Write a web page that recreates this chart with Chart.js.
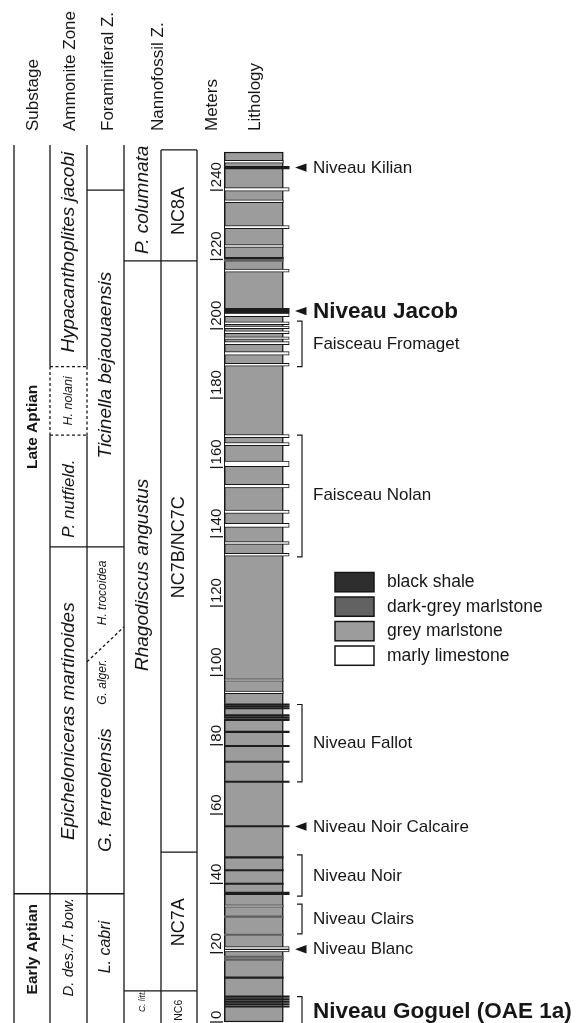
<!DOCTYPE html>
<html>
<head>
<meta charset="utf-8">
<script src="https://cdn.jsdelivr.net/npm/chart.js@4.4.1/dist/chart.umd.min.js"></script>
<style>
  html, body { margin: 0; padding: 0; background: #ffffff; }
  #wrap { width: 588px; height: 1023px; position: relative; }
  canvas { display: block; }
</style>
</head>
<body>
<div id="wrap"><canvas id="section" width="588" height="1023"></canvas></div>
<script>
// ---- Section data (all levels in metres above the base of the log) ----
const sectionTop = 251;          // top of the logged interval
const columnTop = 253;           // top of the biozone columns
const meterTicks = [0, 20, 40, 60, 80, 100, 120, 140, 160, 180, 200, 220, 240];

// Beds: [base, top, prominent (stands out of the weathering profile)]
const blackShaleBeds = [
  [246.1, 246.9, true],
  [220.2, 220.6, false],
  [204.6, 205.9, true],
  [91.45, 91.8, true], [90.95, 91.3, true], [90.35, 90.7, true],
  [88.35, 88.7, true], [87.75, 88.1, true], [86.95, 87.3, true],
  [83.5, 83.9, true], [79.4, 79.8, true], [74.9, 75.3, true], [69.1, 69.5, true],
  [56.3, 56.7, true],
  [47.3, 47.7, false], [43.6, 44.0, false], [39.7, 40.1, false],
  [36.7, 37.5, true],
  [12.6, 13.0, false],
  [7.3, 7.55, true], [6.8, 7.05, true], [6.3, 6.55, true], [5.8, 6.05, true],
  [5.35, 5.6, true], [4.85, 5.1, true], [4.3, 4.55, true]
];
const darkGreyBeds = [
  [219.4, 220.2, false],
  [87.35, 87.75, true],
  [30.2, 30.6, false], [25.0, 25.4, false],
  [18.6, 19.0, false], [17.8, 18.2, false]
];
const limestoneBeds = [
  [247.8, 248.6, false],
  [239.7, 240.7, true],
  [236.4, 237.2, false],
  [228.9, 229.8, true],
  [223.5, 224.3, false],
  [216.3, 217.2, true],
  [203.5, 204.5, true], [201.2, 202.0, true], [200.0, 200.8, true],
  [198.6, 199.4, true], [196.9, 197.7, true], [195.4, 196.3, true],
  [192.4, 193.4, true], [189.2, 190.0, true],
  [168.6, 169.5, true], [166.3, 167.2, true], [160.2, 161.8, true],
  [154.1, 155.1, true], [146.7, 147.7, true], [142.7, 143.9, true],
  [137.8, 138.6, true], [134.4, 135.2, true],
  [98.3, 99.0, false], [94.7, 95.5, false],
  [33.1, 33.8, false],
  [20.95, 21.75, true], [20.2, 20.95, true]
];

// Biostratigraphy
const substages = [
  { name: 'Early Aptian', base: 0, top: 37, labelAt: 21 },
  { name: 'Late Aptian', base: 37, top: columnTop, labelAt: 171.7 }
];
const ammoniteZones = [
  { name: 'D. des./T. bow.', base: 0, top: 37, labelAt: 21.6 },
  { name: 'Epicheloniceras martinoides', base: 37, top: 137.1, labelAt: 86.8 },
  { name: 'P. nutfield.', base: 137.1, top: 169.3, labelAt: 151 },
  { name: 'H. nolani', base: 169.3, top: 189.1, labelAt: 179.2, uncertain: true },
  { name: 'Hypacanthoplites jacobi', base: 189.1, top: columnTop, labelAt: 222.1 }
];
const foramZones = [
  { name: 'L. cabri', base: 0, top: 37, labelAt: 21.6 },
  { name: 'G. ferreolensis', base: 37, top: 137.1, labelAt: 66.9 },
  { name: 'Ticinella bejaouaensis', base: 137.1, top: 240, labelAt: 189.5 },
  { name: '', base: 240, top: columnTop, labelAt: 246 }
];
const foramSubzones = [
  { name: 'G. alger.', labelAt: 98.1 },
  { name: 'H. trocoidea', labelAt: 123.8 }
];
const foramDiachronousLimit = [103.9, 114.0];   // level at the left and right side of the column
const nannoMarkerZones = [
  { name: 'C. litt.', base: 0, top: 9, labelAt: 6 },
  { name: 'Rhagodiscus angustus', base: 9, top: 219.6, labelAt: 129 },
  { name: 'P. columnata', base: 219.6, top: columnTop, labelAt: 237.2 }
];
const nannoZones = [
  { name: 'NC6', base: 0, top: 9, labelAt: 3.4 },
  { name: 'NC7A', base: 9, top: 49, labelAt: 28.8 },
  { name: 'NC7B/NC7C', base: 49, top: 219.6, labelAt: 137 },
  { name: 'NC8A', base: 219.6, top: 251.6, labelAt: 234 }
];

// Named levels beside the log
const markerLevels = [
  { name: 'Niveau Kilian', at: 246.5 },
  { name: 'Niveau Jacob', at: 205.1, key: true },
  { name: 'Niveau Noir Calcaire', at: 56.4 },
  { name: 'Niveau Blanc', at: 21.0 }
];
const bracketIntervals = [
  { name: 'Faisceau Fromaget', base: 189.1, top: 202.2, labelAt: 195.6 },
  { name: 'Faisceau Nolan', base: 134.2, top: 169.3, labelAt: 152 },
  { name: 'Niveau Fallot', base: 69.3, top: 91.6, labelAt: 80.6 },
  { name: 'Niveau Noir', base: 36.3, top: 48.2, labelAt: 42.1 },
  { name: 'Niveau Clairs', base: 25.4, top: 34.0, labelAt: 29.7 },
  { name: 'Niveau Goguel (OAE 1a)', base: -3, top: 7.3, labelAt: 3.0, key: true }
];

const columnHeaders = ['Substage', 'Ammonite Zone', 'Foraminiferal Z.', 'Nannofossil Z.', 'Meters', 'Lithology'];
const legendLabels = ['black shale', 'dark-grey marlstone', 'grey marlstone', 'marly limestone'];

// ---- Layout and styles ----
const FONT = '"Liberation Sans", Arial, Helvetica, sans-serif';
const INK = '#161616';
const COLORS = { black: '#1c1c1c', dark: '#5e5e5e', grey: '#9c9c9c', lime: '#ffffff' };
const LEGEND_FILL = ['#2e2e2e', '#626262', '#9c9c9c', '#ffffff'];
const LITH = { left: 224.3, right: 283.3, rightProminent: 289.2 };
const COLS = [14, 50, 87, 124, 161, 197];
const HEADER_X = [33, 70, 108, 158, 212, 255];

function bedSet(label, beds, prominent, fill, border, bw) {
  const r = prominent ? LITH.rightProminent : LITH.right;
  return {
    label,
    data: beds.filter(b => !!b[2] === prominent).map(b => ({ x: (LITH.left + r) / 2, y: [b[0], b[1]] })),
    backgroundColor: fill,
    borderColor: border,
    borderWidth: bw,
    borderSkipped: false,
    barThickness: r - LITH.left,
    grouped: false,
    order: 1,
    clip: false
  };
}

const datasets = [
  bedSet('black shale', blackShaleBeds, true, COLORS.black, COLORS.black, 0),
  bedSet('black shale', blackShaleBeds, false, COLORS.black, COLORS.black, 0),
  bedSet('dark-grey marlstone', darkGreyBeds, true, COLORS.dark, COLORS.dark, 0),
  bedSet('dark-grey marlstone', darkGreyBeds, false, COLORS.dark, COLORS.dark, 0),
  bedSet('marly limestone', limestoneBeds, true, COLORS.lime, INK, 1),
  bedSet('marly limestone', limestoneBeds, false, COLORS.lime, INK, 1),
  {
    label: 'grey marlstone',
    data: [{ x: (LITH.left + LITH.right) / 2, y: [0, sectionTop] }],
    backgroundColor: COLORS.grey,
    borderColor: INK,
    borderWidth: 1.5,
    borderSkipped: false,
    barThickness: LITH.right - LITH.left,
    grouped: false,
    order: 5,
    clip: false
  }
];

function vText(ctx, str, x, y, font, align) {
  ctx.save();
  ctx.translate(x, y);
  ctx.rotate(-Math.PI / 2);
  ctx.font = font;
  ctx.fillStyle = INK;
  ctx.textAlign = align || 'center';
  ctx.textBaseline = 'middle';
  ctx.fillText(str, 0, 0);
  ctx.restore();
}

function hLine(ctx, x1, x2, yy, dashed) {
  ctx.save();
  ctx.setLineDash(dashed ? [3, 2.5] : []);
  ctx.beginPath(); ctx.moveTo(x1, yy); ctx.lineTo(x2, yy); ctx.stroke();
  ctx.restore();
}
function vLine(ctx, xx, y1, y2, dashed) {
  ctx.save();
  ctx.setLineDash(dashed ? [3, 2.5] : []);
  ctx.beginPath(); ctx.moveTo(xx, y1); ctx.lineTo(xx, y2); ctx.stroke();
  ctx.restore();
}

const ZONE_FONT = {
  'Early Aptian': 'bold 15.5px ' + FONT,
  'Late Aptian': 'bold 15.5px ' + FONT,
  'D. des./T. bow.': 'italic 15px ' + FONT,
  'H. nolani': 'italic 12.5px ' + FONT,
  'P. nutfield.': 'italic 17px ' + FONT,
  'L. cabri': 'italic 16px ' + FONT,
  'G. alger.': 'italic 12px ' + FONT,
  'H. trocoidea': 'italic 12px ' + FONT,
  'C. litt.': 'italic 8.5px ' + FONT,
  'NC6': '10.5px ' + FONT,
  'NC8A': '18px ' + FONT,
  'NC7A': '18px ' + FONT,
  'NC7B/NC7C': '18px ' + FONT
};
const DEFAULT_ZONE_FONT = 'italic 19px ' + FONT;

const sectionPlugin = {
  id: 'sectionDecor',
  afterDatasetsDraw(chart) {
    const ctx = chart.ctx;
    const y = v => chart.scales.y.getPixelForValue(v);
    const bottom = chart.height + 2;
    const yTop = y(columnTop);

    ctx.save();
    ctx.strokeStyle = INK;
    ctx.lineWidth = 1.3;

    // Column frames
    const nolani = ammoniteZones.find(z => z.uncertain);
    COLS.forEach((cx, i) => {
      if (i === 1 || i === 2) {
        vLine(ctx, cx, yTop, y(nolani.top));
        vLine(ctx, cx, y(nolani.top), y(nolani.base), true);
        vLine(ctx, cx, y(nolani.base), bottom);
      } else if (i === 4 || i === 5) {
        vLine(ctx, cx, y(nannoZones[nannoZones.length - 1].top), bottom);
      } else {
        vLine(ctx, cx, yTop, bottom);
      }
    });
    hLine(ctx, COLS[4], COLS[5], y(nannoZones[nannoZones.length - 1].top));

    // Zone boundaries and names
    const columns = [substages, ammoniteZones, foramZones, nannoMarkerZones, nannoZones];
    columns.forEach((zones, i) => {
      const x1 = COLS[i], x2 = COLS[i + 1], xc = (x1 + x2) / 2;
      zones.forEach((z, k) => {
        if (z.top < columnTop - 1.5) {
          const next = zones[k + 1];
          hLine(ctx, x1, x2, y(z.top), z.uncertain || (next && next.uncertain));
        }
        if (z.name) vText(ctx, z.name, xc + 0.5, y(z.labelAt), ZONE_FONT[z.name] || DEFAULT_ZONE_FONT);
      });
    });

    // Diachronous foraminiferal limit
    ctx.save();
    ctx.setLineDash([3, 2.5]);
    ctx.beginPath();
    ctx.moveTo(COLS[2], y(foramDiachronousLimit[0]));
    ctx.lineTo(COLS[3], y(foramDiachronousLimit[1]));
    ctx.stroke();
    ctx.restore();
    foramSubzones.forEach(s => vText(ctx, s.name, 103, y(s.labelAt), ZONE_FONT[s.name]));

    // Metre scale
    meterTicks.forEach(m => {
      hLine(ctx, 210, 223, y(m));
      vText(ctx, String(m), 216.5, y(m) - 3, '15px ' + FONT, 'left');
    });

    // Column headers
    columnHeaders.forEach((h, i) => vText(ctx, h, HEADER_X[i], 131, '17px ' + FONT, 'left'));

    // Named levels
    ctx.fillStyle = INK;
    ctx.textAlign = 'left';
    ctx.textBaseline = 'middle';
    markerLevels.forEach(l => {
      const yy = y(l.at);
      ctx.beginPath();
      ctx.moveTo(295, yy);
      ctx.lineTo(306.5, yy - 4.2);
      ctx.lineTo(306.5, yy + 4.2);
      ctx.closePath();
      ctx.fill();
      ctx.font = (l.key ? 'bold 22.5px ' : '17px ') + FONT;
      ctx.fillText(l.name, 313, yy + 0.5);
    });
    ctx.lineWidth = 1.2;
    bracketIntervals.forEach(b => {
      const yt = y(b.top), yb = y(b.base);
      ctx.beginPath();
      ctx.moveTo(297, yt); ctx.lineTo(302, yt); ctx.lineTo(302, yb); ctx.lineTo(297, yb);
      ctx.stroke();
      ctx.font = (b.key ? 'bold 22.5px ' : '17px ') + FONT;
      ctx.fillText(b.name, 313, y(b.labelAt) + 0.5);
    });

    // Legend
    ctx.lineWidth = 1.5;
    legendLabels.forEach((lab, i) => {
      const top = 572.5 + i * 24.5;
      ctx.fillStyle = LEGEND_FILL[i];
      ctx.fillRect(335, top, 39, 19.3);
      ctx.strokeRect(335, top, 39, 19.3);
      ctx.fillStyle = INK;
      ctx.font = '17.5px ' + FONT;
      ctx.fillText(lab, 387, top + 10);
    });
    ctx.restore();
  }
};

new Chart(document.getElementById('section'), {
  type: 'bar',
  data: { datasets },
  options: {
    responsive: false,
    animation: false,
    events: [],
    layout: { padding: { top: 152, bottom: 1, left: 0, right: 0 } },
    scales: {
      x: { type: 'linear', min: 0, max: 588, offset: false, display: false },
      y: { type: 'linear', min: 0, max: sectionTop, display: false }
    },
    plugins: { legend: { display: false }, tooltip: { enabled: false } }
  },
  plugins: [sectionPlugin]
});
</script>
</body>
</html>
